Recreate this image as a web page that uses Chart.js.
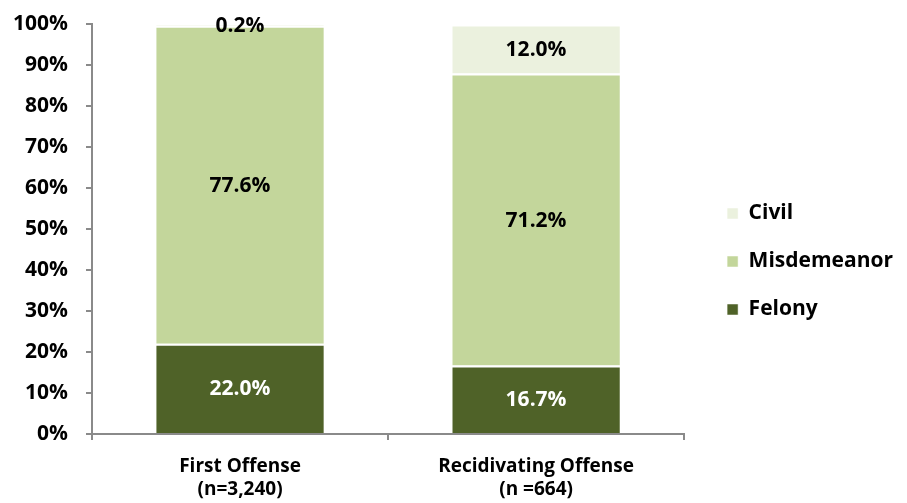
<!DOCTYPE html>
<html>
<head>
<meta charset="utf-8">
<script src="https://cdn.jsdelivr.net/npm/chart.js@4.4.1/dist/chart.umd.min.js"></script>
<style>
  html, body { margin: 0; padding: 0; background: #fff; }
  #wrap { width: 907px; height: 503px; position: relative; }
</style>
</head>
<body>
<div id="wrap"><canvas id="chart"></canvas></div>
<script>
// --- data ---
const categories = [['First Offense', '(n=3,240)'], ['Recidivating Offense', '(n =664)']];
const felony = [22.0, 16.7];
const misdemeanor = [77.6, 71.2];
const civil = [0.2, 12.0];
const yTicks = [0, 10, 20, 30, 40, 50, 60, 70, 80, 90, 100];

const FONT = '"Open Sans", "Liberation Sans", sans-serif';
const AXIS_GRAY = '#8a8a8a';

// labels centred in each bar segment
const segmentLabels = {
    id: 'segmentLabels',
    afterDatasetsDraw(chart) {
        const ctx = chart.ctx;
        ctx.save();
        ctx.font = 'bold 21px ' + FONT;
        ctx.textAlign = 'center';
        ctx.textBaseline = 'middle';
        chart.data.datasets.forEach((ds, i) => {
            const meta = chart.getDatasetMeta(i);
            meta.data.forEach((bar, j) => {
                const v = ds.data[j];
                ctx.fillStyle = ds.labelColor;
                ctx.fillText(v.toFixed(1) + '%', bar.x, (bar.y + bar.base) / 2 + 1);
            });
        });
        ctx.restore();
    }
};

function draw() {
    const ctx = document.getElementById('chart').getContext('2d');
    new Chart(ctx, {
        type: 'bar',
        data: {
            labels: categories,
            datasets: [
                { label: 'Felony', data: felony, backgroundColor: '#4F6228', labelColor: '#ffffff' },
                { label: 'Misdemeanor', data: misdemeanor, backgroundColor: '#C3D69B', labelColor: '#000000' },
                { label: 'Civil', data: civil, backgroundColor: '#EBF1DE', labelColor: '#000000' }
            ].map(d => Object.assign(d, {
                borderColor: '#ffffff',
                borderWidth: { top: 2, left: 0, right: 0, bottom: 0 },
                borderSkipped: false,
                barPercentage: 0.566,
                categoryPercentage: 1
            }))
        },
        options: {
            responsive: true,
            maintainAspectRatio: false,
            animation: false,
            layout: { padding: { top: 24, right: 4, bottom: 4, left: 0 } },
            plugins: {
                tooltip: { enabled: false },
                legend: {
                    position: 'right',
                    reverse: true,
                    maxWidth: 300,
                    labels: {
                        boxWidth: 11,
                        boxHeight: 11,
                        padding: 27,
                        color: '#000',
                        font: { family: FONT, size: 21, weight: 'bold' }
                    }
                }
            },
            scales: {
                x: {
                    stacked: true,
                    grid: { display: true, drawOnChartArea: false, offset: true, color: AXIS_GRAY, lineWidth: 2, tickLength: 6 },
                    border: { color: AXIS_GRAY, width: 2 },
                    ticks: {
                        color: '#000',
                        padding: 15,
                        maxRotation: 0,
                        font: { family: FONT, size: 19, weight: 'bold', lineHeight: 1.2 }
                    },
                    afterFit(s) { s.height = 65; }
                },
                y: {
                    stacked: true,
                    min: 0,
                    max: 100,
                    grid: { display: true, drawOnChartArea: false, color: AXIS_GRAY, lineWidth: 2, tickLength: 6 },
                    border: { color: AXIS_GRAY, width: 2 },
                    afterBuildTicks(s) { s.ticks = yTicks.map(v => ({ value: v })); },
                    ticks: {
                        color: '#000',
                        padding: 18,
                        font: { family: FONT, size: 21, weight: 'bold' },
                        callback: v => v + '%'
                    },
                    afterFit(s) { s.width = 92; s.paddingTop = 12; s.paddingBottom = 12; }
                },
                // spacer between plot and legend
                gap: {
                    position: 'right',
                    display: true,
                    grid: { display: false },
                    border: { display: false },
                    ticks: { display: false },
                    afterFit(s) { s.width = 16; }
                }
            }
        },
        plugins: [segmentLabels]
    });
}

document.fonts.load('bold 21px "Open Sans"').then(draw, draw);
</script>
</body>
</html>
